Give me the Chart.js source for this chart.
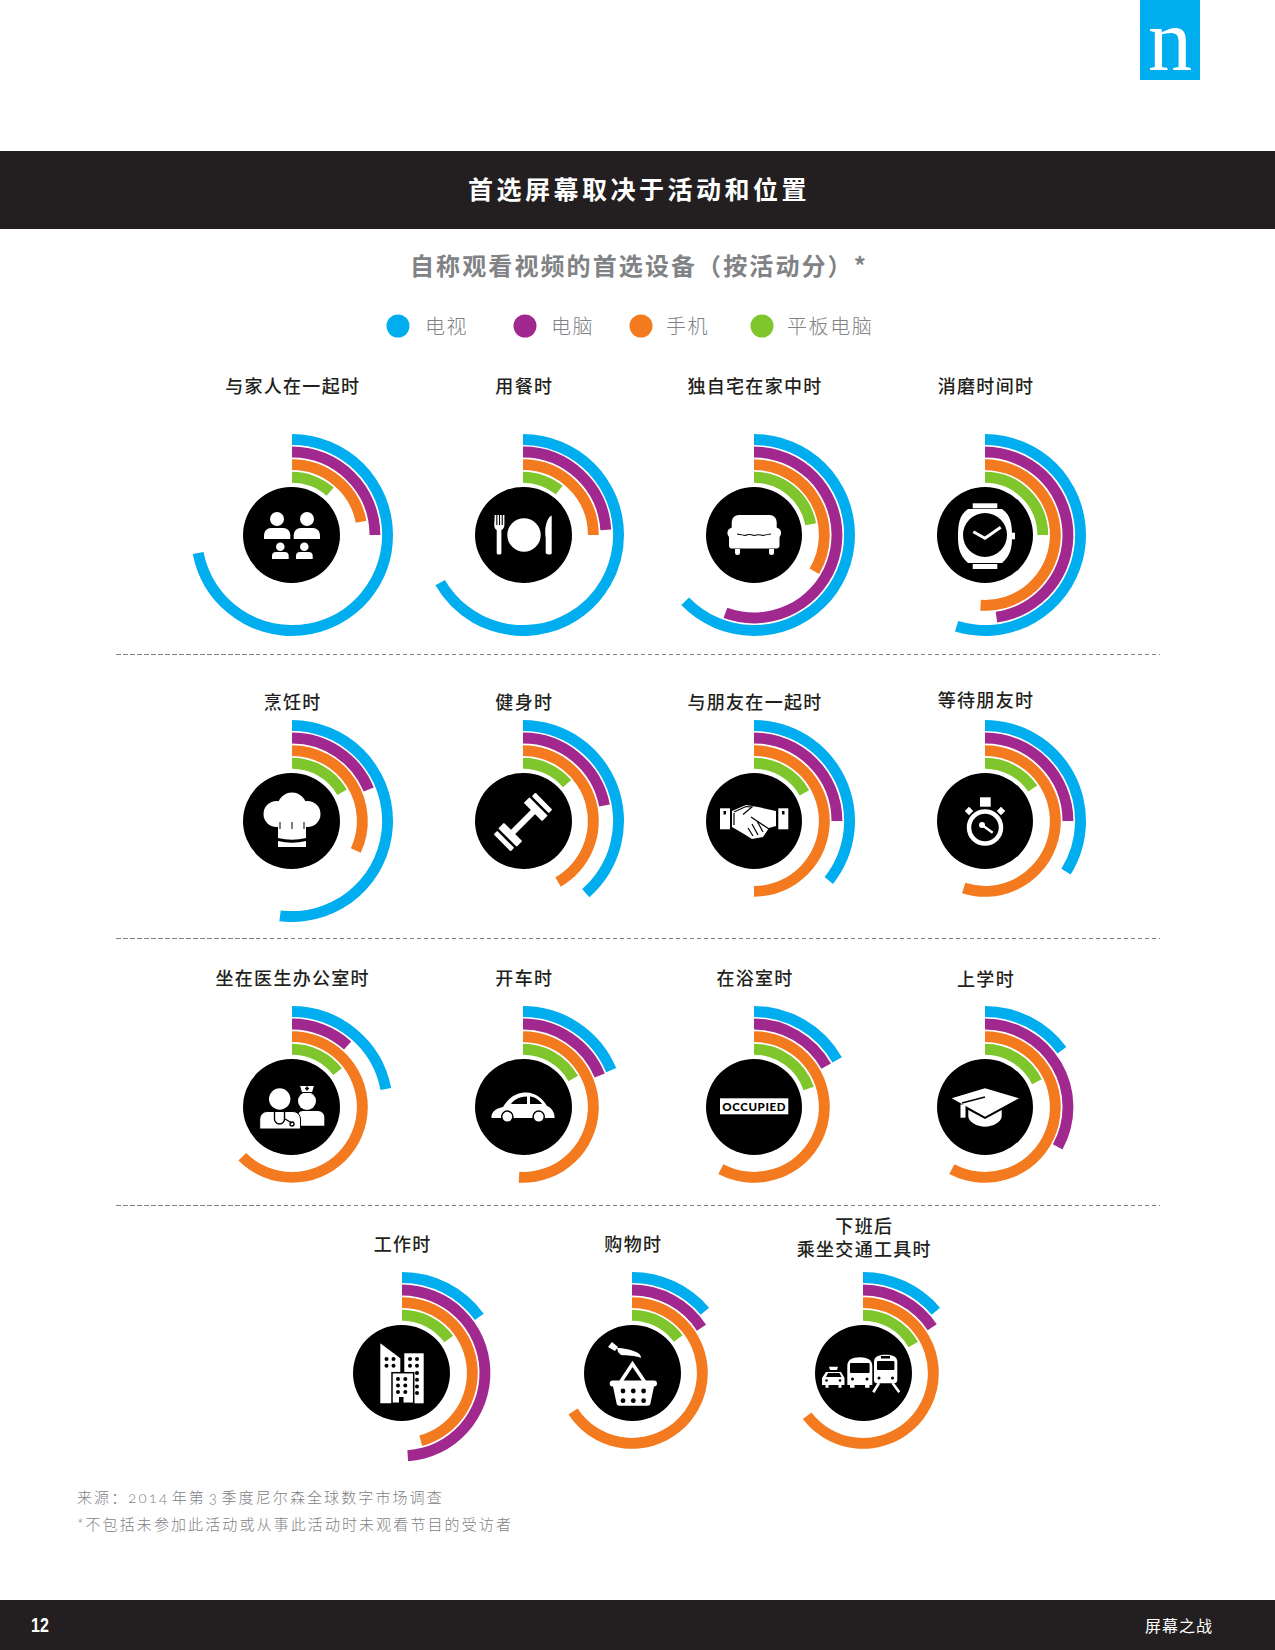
<!DOCTYPE html>
<html lang="zh">
<head>
<meta charset="utf-8">
<title>首选屏幕取决于活动和位置</title>
<script src="https://cdn.jsdelivr.net/npm/chart.js@4/dist/chart.umd.js"></script>
<style>
html, body { margin: 0; padding: 0; background: #fff; }
#page { position: relative; width: 1275px; height: 1650px; overflow: hidden; font-family: "Noto Sans CJK SC", sans-serif; }
#page > * { position: absolute; }
.bar { left: 0; width: 1275px; background: #231f20; }
.mid { transform: translate(-50%, -50%); white-space: pre-line; text-align: center; }
.left { transform: translateY(-50%); white-space: nowrap; }
.label { font-size: 18px; font-weight: 500; letter-spacing: 1.3px; color: #231f20; line-height: 23px; }
.legend { font-size: 20px; letter-spacing: 1.6px; color: #808285; font-weight: 300; }
.dot { width: 23px; height: 23px; border-radius: 50%; transform: translate(-50%, -50%); }
.note { font-family: Lato, "Noto Sans CJK SC", sans-serif; font-size: 15px; letter-spacing: 2.1px; word-spacing: -3.5px; color: #808285; font-weight: 300; font-variant-numeric: oldstyle-nums; }
.rule { height: 1px; background: repeating-linear-gradient(to right, #808285 0, #808285 4.5px, transparent 4.5px, transparent 7px); }
canvas.ring { width: 202px; height: 202px; }
svg.icon { width: 100px; height: 100px; overflow: visible; }
</style>
</head>
<body>
<div id="page"></div>
<script>
// 活動ごとの値(円周に対する%を図から読み取り)
var categories = ['与家人在一起时', '用餐时', '独自宅在家中时', '消磨时间时',
    '烹饪时', '健身时', '与朋友在一起时', '等待朋友时',
    '坐在医生办公室时', '开车时', '在浴室时', '上学时',
    '工作时', '购物时', '下班后\n乘坐交通工具时'];
var seriesNames = ['电视', '电脑', '手机', '平板电脑'];
var tvValues     = [72, 66.7, 62.8, 54.8, 52, 38.6, 35.7, 33.9, 22, 18.7, 16.8, 14.9, 15, 13.8, 13.8];
var pcValues     = [25, 24, 55.6, 47.8, 18.8, 22, 25, 25, 11.7, 18.8, 16.8, 33, 48.9, 15.8, 15.7];
var mobileValues = [22, 25, 33.6, 51, 31.9, 41.7, 50, 54.9, 62.5, 50.9, 57.8, 57.8, 45.7, 65.8, 64.6];
var tabletValues = [11.5, 10.8, 22, 25, 16.7, 13.8, 16.9, 15.5, 14.5, 16.8, 19.8, 17.8, 15, 14.8, 16.8];

var BLUE = '#00aeef', PURPLE = '#a1288f', ORANGE = '#f47a1f', GREEN = '#7fc62d';
var seriesColors = [BLUE, PURPLE, ORANGE, GREEN];

// レイアウト
var columnX = [291.7, 523.3, 754, 985];
var lastRowX = [401.7, 632.3, 863.3];
var rowY = [535, 821, 1107, 1373];
var labelY = [384.5, 700.5, 977, 1242.5];
var labelNudge = { 7: -1.5, 11: 1, 14: -6 };
var OUTER = 101, INNER = 52.3, RING = 10.9, GAP = 1.7;

function dots(x0, y0, cols, rows, dx, dy, r) {
    var s = '';
    for (var i = 0; i < cols; i++) {
        for (var j = 0; j < rows; j++) {
            s += '<circle cx="' + (x0 + i * dx) + '" cy="' + (y0 + j * dy) + '" r="' + r + '" fill="#000"/>';
        }
    }
    return s;
}

// 中央のアイコン(円の中心が原点)
var icons = [
    // family
    '<circle cx="-15" cy="-16" r="7"/><circle cx="15" cy="-16" r="7"/>' +
    '<path d="M-28 4v-4a7 7 0 0 1 7-7h12.3a7 7 0 0 1 7 7v4z"/><path d="M1.7 4v-4a7 7 0 0 1 7-7h12.3a7 7 0 0 1 7 7v4z"/>' +
    '<circle cx="-11.7" cy="11.7" r="4.3"/><circle cx="12.3" cy="11.7" r="4.3"/>' +
    '<path d="M-20 24v-3a4 4 0 0 1 4-4h8.7a4 4 0 0 1 4 4v3z"/><path d="M4 24v-3a4 4 0 0 1 4-4h8.7a4 4 0 0 1 4 4v3z"/>',
    // plate
    '<circle cx="1" cy="0" r="16.7"/>' +
    '<path d="M-28.3 -20h1.6v10h1.1v-10h1.6v10h1.1v-10h1.6v10h1.1v-10h1.6v10c0 3 -2 4.5 -3 5v23c0 1 -.8 1.5 -2.2 1.5s-2.5 -.5 -2.5 -1.5v-23c-1 -.5 -2.5 -2 -2.5 -5z"/>' +
    '<path d="M28.7 -19.5v38c0 .7 -1.4 1 -3 1s-3 -.8 -3 -2v-14c0 -1 -.5 -3 -.5 -7c0 -7 3 -15 6.5 -16z"/>',
    // sofa
    '<rect x="-22.3" y="-20" width="45" height="22" rx="7"/>' +
    '<circle cx="-21" cy="-2" r="5.6"/><circle cx="21.5" cy="-2" r="5.6"/>' +
    '<rect x="-25" y="-2" width="8" height="15" rx="2"/><rect x="17.5" y="-2" width="8" height="15" rx="2"/>' +
    '<rect x="-24" y="1" width="48" height="12.6" rx="1"/>' +
    '<path d="M-19 14h5v3.5a2.5 2.5 0 0 1 -5 0zM15 14h5v3.5a2.5 2.5 0 0 1 -5 0z"/>' +
    '<path d="M-17 -1q6 1 8.5 1.5q3 -2 8.5 0q5 -1.5 9 0q4 -1 8 -1.5" fill="none" stroke="#000" stroke-width="1.2"/>',
    // watch
    '<rect x="-12.3" y="-31.7" width="24.6" height="5"/><rect x="-12.3" y="29" width="24.6" height="5"/>' +
    '<path d="M-17 -26H17C26 -20 27 -10 27 1C27 12 26 20 17 28H-17C-26 20 -27 12 -27 1C-27 -10 -26 -20 -17 -26Z"/>' +
    '<rect x="26" y="-2.3" width="4" height="6.6"/>' +
    '<circle cx="0" cy="0" r="22" fill="#000"/>' +
    '<path d="M-11.7 -3.3L0 3.3L15.7 -7.7" fill="none" stroke="#fff" stroke-width="3"/>',
    // chef hat
    '<circle cx="0" cy="-14" r="14.5"/><circle cx="-15.5" cy="-7" r="13"/><circle cx="15.5" cy="-7" r="13"/>' +
    '<path d="M-14 -8H14V17Q0 20.5 -14 17Z"/><path d="M-14 20Q0 23.5 14 20V26H-14Z"/>' +
    '<path d="M-12 1V8M0 1V8M12 1V8" stroke="#000" stroke-width="1"/>',
    // dumbbell
    '<g transform="translate(0,1) rotate(-45)"><rect x="-15" y="-3" width="30" height="6"/>' +
    '<rect x="-22" y="-13" width="8" height="26" rx="1"/><rect x="14" y="-13" width="8" height="26" rx="1"/>' +
    '<rect x="-29.5" y="-12" width="5" height="24" rx="1"/><rect x="24.5" y="-12" width="5" height="24" rx="1"/></g>',
    // handshake
    '<rect x="-34" y="-12.7" width="10" height="21"/><rect x="24.3" y="-12.7" width="10" height="21"/>' +
    '<rect x="-30.5" y="-10" width="2.5" height="3.5" fill="#000"/><rect x="28" y="-10" width="2.5" height="3.5" fill="#000"/>' +
    '<path d="M-22 -10L-8 -16L4 -14L22 -10V5L15 7L9 16L-2 18L-10 13L-22 6Z"/>' +
    '<path d="M-20 -9L-8 -14.5L-2 -14L-11 -6.5M-20 -8V4M-3 -4L15 8M-2 3L4 14M3 0L9 11M-6 7L-1 15" fill="none" stroke="#000" stroke-width="1.2"/>',
    // stopwatch
    '<circle cx="0" cy="6.5" r="16" fill="none" stroke="#fff" stroke-width="4.5"/>' +
    '<rect x="-5" y="-23.7" width="10.7" height="9.4"/>' +
    '<rect x="-19" y="-13" width="6" height="6" transform="rotate(45 -16 -10)"/><rect x="13" y="-13" width="6" height="6" transform="rotate(45 16 -10)"/>' +
    '<circle cx="-3" cy="4" r="3"/><path d="M-3 4L7.7 11.7" stroke="#fff" stroke-width="2.5"/>',
    // doctor and nurse
    '<circle cx="15" cy="-6" r="9"/><path d="M7.5 -21.5H22.5L20.5 -14.5H9.5Z" stroke="#000" stroke-width="1"/><path d="M14.2 -20.5h1.6v1.2h1.2v1.6h-1.2v1.2h-1.6v-1.2h-1.2v-1.6h1.2z" fill="#000"/>' +
    '<path d="M6.7 18.7V6a6 6 0 0 1 4 -2H26a6.3 6.3 0 0 1 6.3 6.3V18.7Z"/>' +
    '<circle cx="-12.3" cy="-8" r="10.7"/>' +
    '<path d="M-32.3 22V12a7.5 7.5 0 0 1 7.5 -7.5H1a7.5 7.5 0 0 1 7.5 7.5V22Z" stroke="#000" stroke-width="1"/>' +
    '<path d="M-17.5 4V12a5 5 0 0 0 10 0V4M-7 12L0 16" fill="none" stroke="#000" stroke-width="1.4"/>' +
    '<circle cx="0" cy="17" r="2" fill="none" stroke="#000" stroke-width="1.4"/>',
    // car
    '<path d="M-31.5 11C-32 5 -28 2 -20 0C-14 -10 -6 -14.5 3 -14.5C13 -14.5 20 -8 24 -1C29 1 32 6 31.5 11Z"/>' +
    '<path d="M-12 -3C-9 -7 -5 -10 4 -10.5V-3ZM7 -10.5C12 -10 16 -7 19 -3H7Z" fill="#000"/>' +
    '<circle cx="-15.7" cy="9.7" r="5.6" stroke="#000" stroke-width="1.5"/><circle cx="15.7" cy="9.7" r="5.6" stroke="#000" stroke-width="1.5"/>',
    // occupied sign
    '<rect x="-34" y="-8.7" width="68.3" height="16"/>' +
    '<text x="0.2" y="4.2" text-anchor="middle" fill="#000" font-family="Lato, sans-serif" font-weight="900" font-size="11.5" letter-spacing="0.6">OCCUPIED</text>',
    // graduation cap
    '<path d="M-33.3 -8.7L0 -18.7L34 -8.7L0 9.7Z"/>' +
    '<path d="M-16.7 3L0 12L16.7 3V9C16.7 15 8 19.7 0 19.7C-8 19.7 -16.7 15 -16.7 9Z"/>' +
    '<rect x="-24.5" y="-2.5" width="5" height="13.2"/>' +
    '<path d="M-23 -4L0 -10" stroke="#000" stroke-width="1.5"/>',
    // buildings
    '<path d="M-21.7 -29.7L-1.7 -14.7V30.3H-21.7Z"/><rect x="2.3" y="-19.7" width="19.4" height="50"/>' +
    '<rect x="-10" y="-0.3" width="21.7" height="30.6" stroke="#000" stroke-width="1.5"/>' +
    dots(-15.5, -14, 2, 2, 7, 6.7, 2) + dots(8, -14, 2, 2, 7, 6.7, 2) + dots(15, 0, 1, 4, 0, 6.7, 2) +
    dots(-4, 6, 2, 3, 7.3, 6.5, 2) + '<rect x="-3" y="24" width="4.5" height="6.3" fill="#000"/>',
    // shopping basket
    '<path d="M-24 -26L-20 -31L-14 -26L-17 -22Z"/><path d="M-15 -25C-9 -25 0 -23 4 -21C7 -20 9 -18 9 -15C3 -18 -5 -17 -11 -18L-14 -21Z"/>' +
    '<path d="M-12.3 10.3L0.5 -9L13.7 10.3" fill="none" stroke="#fff" stroke-width="3.5"/>' +
    '<path d="M-22.3 10.5a3 3 0 0 1 3 -3H22a3 3 0 0 1 3 3a3 3 0 0 1 -3 3L18.5 30a3 3 0 0 1 -3 2.7H-12.5a3 3 0 0 1 -3 -2.7L-19 13.5a3 3 0 0 1 -3.3 -3Z"/>' +
    dots(-9, 18, 3, 2, 10.3, 9.7, 2.4),
    // taxi, bus, train
    '<path d="M-33 -3h7l1 -3.3h-9zM-37 -1H-22L-18.5 5V12H-21.5V14.7H-24.5V12H-34.5V14.7H-37.5V12H-41V5Z"/>' +
    '<path d="M-35 0H-23.5L-21.5 4H-37Z" fill="#000"/><circle cx="-36.5" cy="7.5" r="1.3" fill="#000"/><circle cx="-23" cy="7.5" r="1.3" fill="#000"/>' +
    '<path d="M-15.7 -7C-15.7 -13 -11 -15.7 -3.2 -15.7S9.3 -13 9.3 -7V12H6.5V14.7H2V12H-8.5V14.7H-13V12H-15.7Z"/>' +
    '<rect x="-13" y="-10" width="19.6" height="10" rx="1" fill="#000"/><circle cx="-10.5" cy="6" r="1.5" fill="#000"/><circle cx="4" cy="6" r="1.5" fill="#000"/>' +
    '<path d="M11 -11C11 -16 15 -18.3 22.7 -18.3S34.3 -16 34.3 -11V7C34.3 9 33 10.3 31 10.3H14C12 10.3 11 9 11 7Z"/>' +
    '<rect x="14" y="-12" width="17.4" height="9" rx="1" fill="#000"/><rect x="18" y="-17" width="9" height="2.5" fill="#000"/>' +
    '<circle cx="16" cy="5" r="1.5" fill="#000"/><circle cx="29.5" cy="5" r="1.5" fill="#000"/>' +
    '<path d="M16 10L10.3 19.3M29.5 10L36.3 19.3" stroke="#fff" stroke-width="2.6"/>'
];

var page = document.getElementById('page');

function addText(cls, text, x, y, extra) {
    var el = document.createElement('div');
    el.className = cls;
    el.textContent = text;
    el.style.left = x + 'px';
    el.style.top = y + 'px';
    if (extra) { el.style.cssText += extra; }
    page.appendChild(el);
    return el;
}

function addBox(cls, x, y, w, h, color) {
    var el = document.createElement('div');
    el.className = cls;
    el.style.cssText = 'left:' + x + 'px;top:' + y + 'px;' + (w ? 'width:' + w + 'px;' : '') + (h ? 'height:' + h + 'px;' : '') + (color ? 'background:' + color + ';' : '');
    page.appendChild(el);
}

// ヘッダーとフッター
addBox('', 1139.5, 0, 60.5, 80, BLUE);
addText('mid', 'n', 1170, 41, 'font-family:"Liberation Serif",serif;font-size:88px;line-height:88px;color:#fff;');
addBox('bar', 0, 151, 0, 78);
addText('mid', '首选屏幕取决于活动和位置', 639, 188, 'font-size:25px;font-weight:700;letter-spacing:3.5px;color:#fff;');
addText('mid', '自称观看视频的首选设备（按活动分）*', 639, 264, 'font-size:24px;font-weight:700;letter-spacing:2.1px;color:#808285;');
addBox('bar', 0, 1600, 0, 50);
addText('left', '12', 31, 1625, 'font-family:"Liberation Sans",sans-serif;font-size:20px;font-weight:700;color:#fff;transform:translateY(-50%) scaleX(0.8);transform-origin:left center;');
addText('left', '屏幕之战', 1145, 1625, 'font-size:16px;letter-spacing:1px;color:#fff;');

// 凡例
var legendDotX = [397.5, 525, 640.7, 761.6];
var legendTextX = [425, 551, 666, 787];
seriesNames.forEach(function(name, i) {
    addBox('dot', legendDotX[i], 326, 0, 0, seriesColors[i]);
    addText('left legend', name, legendTextX[i], 325);
});

// 破線
[654, 937.5, 1205].forEach(function(y) { addBox('rule', 116, y, 1044, 1); });

// 注記
addText('left note', '来源：2014 年第 3 季度尼尔森全球数字市场调查', 77, 1496);
addText('left note', '*不包括未参加此活动或从事此活动时未观看节目的受访者', 77, 1523);

function ringData(value, color) {
    return { data: [value, 100 - value], backgroundColor: [color, 'transparent'], weight: RING, borderWidth: 0, hoverOffset: 0, offset: 0 };
}
function spacer() {
    return { data: [0, 100], backgroundColor: ['transparent', 'transparent'], weight: GAP, borderWidth: 0, hoverOffset: 0, offset: 0 };
}

categories.forEach(function(name, i) {
    var row = Math.floor(i / 4);
    var cx = row < 3 ? columnX[i % 4] : lastRowX[i % 4];
    var cy = rowY[row];

    addText('mid label', name, cx + 1, labelY[row] + (labelNudge[i] || 0));

    var disc = document.createElement('div');
    disc.style.cssText = 'left:' + (cx - 48.3) + 'px;top:' + (cy - 48.3) + 'px;width:96.6px;height:96.6px;border-radius:50%;background:#000;';
    page.appendChild(disc);

    var icon = document.createElementNS('http://www.w3.org/2000/svg', 'svg');
    icon.setAttribute('class', 'icon');
    icon.setAttribute('viewBox', '-50 -50 100 100');
    icon.setAttribute('fill', '#fff');
    icon.style.left = (cx - 50) + 'px';
    icon.style.top = (cy - 50) + 'px';
    icon.innerHTML = icons[i];
    page.appendChild(icon);

    var canvas = document.createElement('canvas');
    canvas.className = 'ring';
    canvas.width = OUTER * 2;
    canvas.height = OUTER * 2;
    canvas.style.left = (cx - OUTER) + 'px';
    canvas.style.top = (cy - OUTER) + 'px';
    page.appendChild(canvas);

    // 最初のdatasetが一番外側になる
    new Chart(canvas.getContext('2d'), {
        type: 'doughnut',
        data: {
            labels: [name, ''],
            datasets: [
                ringData(tvValues[i], BLUE), spacer(),
                ringData(pcValues[i], PURPLE), spacer(),
                ringData(mobileValues[i], ORANGE), spacer(),
                ringData(tabletValues[i], GREEN)
            ]
        },
        options: {
            responsive: false,
            animation: false,
            events: [],
            cutout: (INNER / OUTER * 100) + '%',
            layout: { padding: 0 },
            plugins: { legend: { display: false }, tooltip: { enabled: false } }
        }
    });
});
</script>
</body>
</html>
